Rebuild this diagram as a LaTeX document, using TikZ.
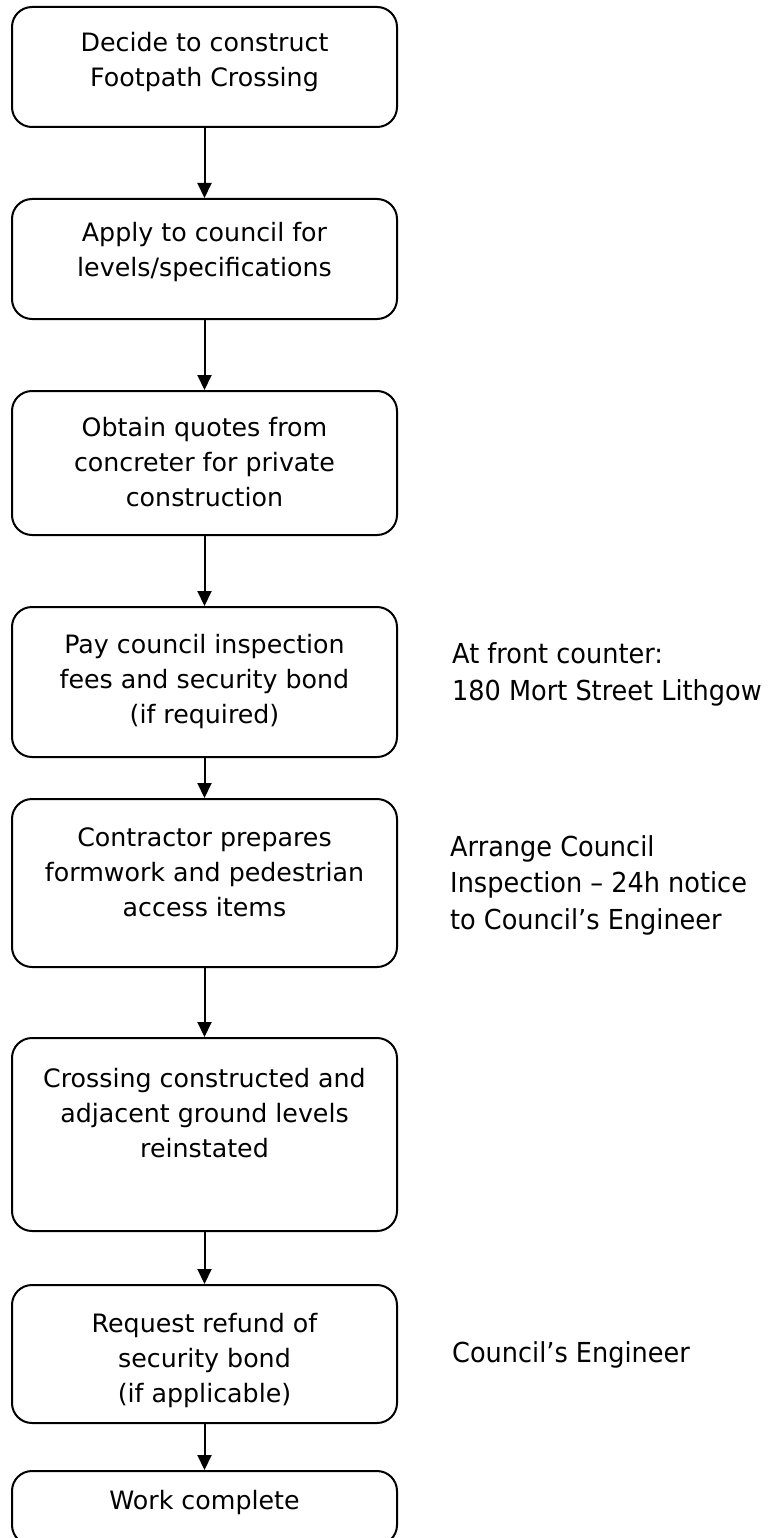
\documentclass[tikz,border=0pt]{standalone}
\usepackage{fontspec}
\setmainfont{DejaVu Sans}
\newfontfamily\sidefont[FakeStretch=0.93]{DejaVu Sans}
\usetikzlibrary{arrows.meta}
\tikzset{
  stepbox/.style={draw=black, line width=2pt, rounded corners=20pt, minimum width=385pt, inner sep=0pt},
  boxtxt/.style={align=center, inner sep=0pt, font=\fontsize{25.3}{35}\selectfont},
  sidetxt/.style={align=left, anchor=west, inner sep=0pt, font=\sidefont\fontsize{27.5}{36.5}\selectfont},
  flow/.style={line width=2pt, -{Triangle[length=15pt,width=14pt]}}
}
\begin{document}
\begin{tikzpicture}[x=1pt,y=-1pt]
\useasboundingbox (0,0) rectangle (775,1538);
\clip (0,0) rectangle (775,1538);
\fill[white] (0,0) rectangle (775,1538);

\node[stepbox, minimum height=120pt] (b1) at (204.5,67) {};
\node[boxtxt] (t1) at (204.5,62.5) {Decide to construct\\Footpath Crossing};

\node[stepbox, minimum height=120pt] (b2) at (204.5,259) {};
\node[boxtxt] (t2) at (204.5,252.5) {Apply to council for\\levels/specifications};

\node[stepbox, minimum height=144pt] (b3) at (204.5,463) {};
\node[boxtxt] (t3) at (204.5,462.5) {Obtain quotes from\\concreter for private\\construction};

\node[stepbox, minimum height=150pt] (b4) at (204.5,682) {};
\node[boxtxt] (t4) at (204.5,682) {Pay council inspection\\fees and security bond\\(if required)};

\node[stepbox, minimum height=168pt] (b5) at (204.5,883) {};
\node[boxtxt] (t5) at (204.5,872.5) {Contractor prepares\\formwork and pedestrian\\access items};

\node[stepbox, minimum height=193pt] (b6) at (204.5,1134.5) {};
\node[boxtxt] (t6) at (204.5,1113) {Crossing constructed and\\adjacent ground levels\\reinstated};

\node[stepbox, minimum height=138pt] (b7) at (204.5,1354) {};
\node[boxtxt] (t7) at (204.5,1361) {Request refund of\\security bond\\(if applicable)};

\node[stepbox, minimum height=74pt] (b8) at (204.5,1508) {};
\node[boxtxt] (t8) at (204.5,1503) {Work complete};

\node[sidetxt] (s1) at (452,674.5) {At front counter:\\180 Mort Street Lithgow};
\node[sidetxt] (s2) at (450,885) {Arrange Council\\Inspection – 24h notice\\to Council’s Engineer};
\node[sidetxt] (s3) at (452,1355) {Council’s Engineer};

\draw[flow] (b1.south) -- (b2.north);
\draw[flow] (b2.south) -- (b3.north);
\draw[flow] (b3.south) -- (b4.north);
\draw[flow] (b4.south) -- (b5.north);
\draw[flow] (b5.south) -- (b6.north);
\draw[flow] (b6.south) -- (b7.north);
\draw[flow] (b7.south) -- (b8.north);
\end{tikzpicture}
\end{document}
